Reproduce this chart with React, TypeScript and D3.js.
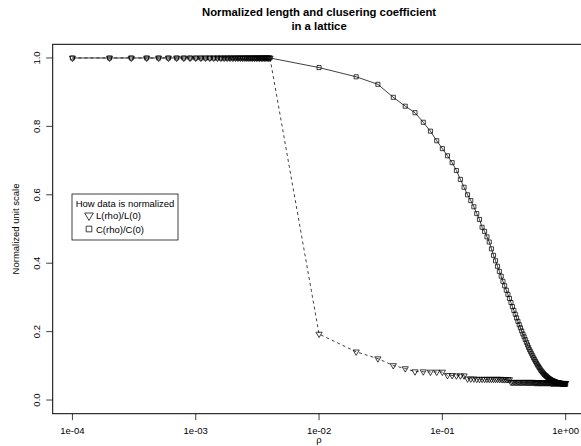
import React from 'react';
import * as d3 from 'd3';

// rewiring probability (x) values
const rho = [
  0.0001, 0.0002, 0.0003, 0.0004, 0.0005, 0.0006, 0.0007, 0.0008, 0.0009, 0.001,
  0.0011, 0.0012, 0.0013, 0.0014, 0.0015, 0.0016, 0.0017, 0.0018, 0.0019, 0.002,
  0.0021, 0.0022, 0.0023, 0.0024, 0.0025, 0.0026, 0.0027, 0.0028, 0.0029, 0.003,
  0.0031, 0.0032, 0.0033, 0.0034, 0.0035, 0.0036, 0.0037, 0.0038, 0.0039, 0.004,
  0.01, 0.02, 0.03, 0.04, 0.05, 0.06, 0.07, 0.08, 0.09, 0.1,
  0.11, 0.12, 0.13, 0.14, 0.15, 0.16, 0.17, 0.18, 0.19, 0.2,
  0.21, 0.22, 0.23, 0.24, 0.25, 0.26, 0.27, 0.28, 0.29, 0.3,
  0.31, 0.32, 0.33, 0.34, 0.35, 0.36, 0.37, 0.38, 0.39, 0.4,
  0.41, 0.42, 0.43, 0.44, 0.45, 0.46, 0.47, 0.48, 0.49, 0.5,
  0.51, 0.52, 0.53, 0.54, 0.55, 0.56, 0.57, 0.58, 0.59, 0.6,
  0.61, 0.62, 0.63, 0.64, 0.65, 0.66, 0.67, 0.68, 0.69, 0.7,
  0.71, 0.72, 0.73, 0.74, 0.75, 0.76, 0.77, 0.78, 0.79, 0.8,
  0.81, 0.82, 0.83, 0.84, 0.85, 0.86, 0.87, 0.88, 0.89, 0.9,
  0.91, 0.92, 0.93, 0.94, 0.95, 0.96, 0.97, 0.98, 0.99, 1.0,
];

// L(rho)/L(0)
const lengthRatio = [
  1, 1, 1, 1, 1, 1, 1, 1, 1, 1,
  1, 1, 1, 1, 1, 1, 1, 1, 1, 1,
  1, 1, 1, 1, 1, 1, 1, 1, 1, 1,
  1, 1, 1, 1, 1, 1, 1, 1, 1, 1,
  0.193, 0.141, 0.121, 0.101, 0.092, 0.083, 0.083, 0.082, 0.082, 0.082,
  0.072, 0.072, 0.071, 0.071, 0.071, 0.062, 0.062, 0.062, 0.061, 0.061,
  0.061, 0.061, 0.061, 0.061, 0.061, 0.061, 0.061, 0.061, 0.061, 0.061,
  0.060, 0.060, 0.060, 0.060, 0.060, 0.052, 0.052, 0.052, 0.052, 0.052,
  0.052, 0.052, 0.052, 0.052, 0.052, 0.052, 0.052, 0.052, 0.052, 0.052,
  0.052, 0.052, 0.052, 0.052, 0.052, 0.051, 0.051, 0.051, 0.051, 0.051,
  0.051, 0.051, 0.051, 0.051, 0.051, 0.051, 0.051, 0.051, 0.051, 0.051,
  0.051, 0.051, 0.051, 0.051, 0.051, 0.050, 0.050, 0.050, 0.050, 0.050,
  0.050, 0.050, 0.050, 0.050, 0.050, 0.050, 0.050, 0.050, 0.050, 0.050,
  0.049, 0.049, 0.049, 0.049, 0.049, 0.049, 0.049, 0.049, 0.049, 0.049,
];

// C(rho)/C(0)
const clusterRatio = [
  1, 1, 1, 1, 1, 1, 1, 1, 1, 1,
  1, 1, 1, 1, 1, 1, 1, 1, 1, 1,
  1, 1, 1, 1, 1, 1, 1, 1, 1, 1,
  1, 1, 1, 1, 1, 1, 1, 1, 1, 1,
  0.972, 0.945, 0.923, 0.885, 0.859, 0.840, 0.812, 0.786, 0.758, 0.735,
  0.714, 0.694, 0.671, 0.645, 0.622, 0.600, 0.583, 0.565, 0.545, 0.528,
  0.505, 0.493, 0.477, 0.462, 0.442, 0.423, 0.407, 0.391, 0.376, 0.362,
  0.347, 0.334, 0.321, 0.309, 0.297, 0.285, 0.273, 0.262, 0.251, 0.240,
  0.230, 0.220, 0.211, 0.202, 0.193, 0.185, 0.177, 0.169, 0.161, 0.154,
  0.147, 0.141, 0.135, 0.129, 0.123, 0.118, 0.113, 0.108, 0.103, 0.099,
  0.095, 0.091, 0.087, 0.084, 0.081, 0.078, 0.075, 0.073, 0.071, 0.069,
  0.067, 0.065, 0.063, 0.062, 0.060, 0.059, 0.058, 0.057, 0.056, 0.055,
  0.054, 0.053, 0.053, 0.052, 0.051, 0.051, 0.050, 0.050, 0.049, 0.049,
  0.048, 0.048, 0.048, 0.047, 0.047, 0.047, 0.047, 0.046, 0.046, 0.046,
];

const xTicks = [1e-4, 1e-3, 1e-2, 1e-1, 1];
const xTickLabels = ['1e-04', '1e-03', '1e-02', '1e-01', '1e+00'];
const yTicks = [0, 0.2, 0.4, 0.6, 0.8, 1.0];
const yTickLabels = ['0.0', '0.2', '0.4', '0.6', '0.8', '1.0'];
const legendLabels = ['L(rho)/L(0)', 'C(rho)/C(0)'];

const W = 581;
const H = 446;
const FONT = '"Liberation Sans", Arial, Helvetica, sans-serif';
const FS = 9.5;

// R style marker shapes (pch 6 and pch 0)
const triDown = (x: number, y: number, s: number) => {
  const r = 1.555 * s, xc = 1.347 * s, yc = 0.778 * s;
  return `M${x},${y + r}L${x + xc},${y - yc}L${x - xc},${y - yc}Z`;
};
const square = (x: number, y: number, s: number) => {
  const h = 0.886 * s;
  return `M${x - h},${y - h}h${2 * h}v${2 * h}h${-2 * h}Z`;
};

export default function App() {
  const left = 52.7, right = 585.4, top = 44.3, bottom = 413.7;
  const x = d3.scaleLog().domain([Math.pow(10, -4.16), Math.pow(10, 0.16)]).range([left, right]);
  const y = d3.scaleLinear().domain([-0.04, 1.04]).range([bottom, top]);

  const line = d3.line<number>().x((_, i) => x(rho[i])).y((d) => y(d));

  const ms = 2.3;

  return (
    <svg width={W} height={H} style={{ position: 'absolute', left: 0, top: 0, background: '#fff' }}
      fontFamily={FONT}>
      <rect x={0} y={0} width={W} height={H} fill="#fff" />

      {/* title */}
      <text x={(left + right) / 2} y={16} textAnchor="middle" fontWeight="bold" fontSize={11.3}>
        Normalized length and clusering coefficient
      </text>
      <text x={(left + right) / 2} y={29.5} textAnchor="middle" fontWeight="bold" fontSize={11.3}>
        in a lattice
      </text>

      {/* series */}
      <path d={line(lengthRatio) || ''} fill="none" stroke="#000" strokeWidth={0.75} strokeDasharray="3,3" />
      <path d={line(clusterRatio) || ''} fill="none" stroke="#000" strokeWidth={0.75} />
      {lengthRatio.map((d, i) => (
        <path key={'l' + i} d={triDown(x(rho[i]), y(d), ms)} fill="none" stroke="#000" strokeWidth={0.75} />
      ))}
      {clusterRatio.map((d, i) => (
        <path key={'c' + i} d={square(x(rho[i]), y(d), ms)} fill="none" stroke="#000" strokeWidth={0.75} />
      ))}

      {/* box */}
      <rect x={left} y={top} width={right - left} height={bottom - top} fill="none" stroke="#000" strokeWidth={1} />

      {/* x axis */}
      {xTicks.map((t, i) => (
        <g key={'xt' + i}>
          <line x1={x(t)} x2={x(t)} y1={bottom} y2={bottom + 6.5} stroke="#000" strokeWidth={0.75} />
          <text x={x(t)} y={bottom + 20} textAnchor="middle" fontSize={FS}>{xTickLabels[i]}</text>
        </g>
      ))}
      <text x={(left + right) / 2} y={bottom + 29.5} textAnchor="middle" fontSize={FS}>ρ</text>

      {/* y axis */}
      {yTicks.map((t, i) => (
        <g key={'yt' + i}>
          <line x1={left} x2={left - 6.5} y1={y(t)} y2={y(t)} stroke="#000" strokeWidth={0.75} />
          <text transform={`translate(${left - 13},${y(t)}) rotate(-90)`} textAnchor="middle" fontSize={FS}>
            {yTickLabels[i]}
          </text>
        </g>
      ))}
      <text transform={`translate(${left - 34},${(top + bottom) / 2}) rotate(-90)`} textAnchor="middle" fontSize={FS}>
        Normalized unit scale
      </text>

      {/* legend */}
      <g>
        <rect x={72} y={194} width={106} height={46} fill="#fff" stroke="#000" strokeWidth={0.75} />
        <text x={125} y={207} textAnchor="middle" fontSize={FS}>How data is normalized</text>
        <path d={triDown(89, 215.5, 3.2)} fill="none" stroke="#000" strokeWidth={0.75} />
        <text x={96} y={218.5} fontSize={FS}>{legendLabels[0]}</text>
        <path d={square(89, 229, 3.2)} fill="none" stroke="#000" strokeWidth={0.75} />
        <text x={96} y={232.5} fontSize={FS}>{legendLabels[1]}</text>
      </g>
    </svg>
  );
}
